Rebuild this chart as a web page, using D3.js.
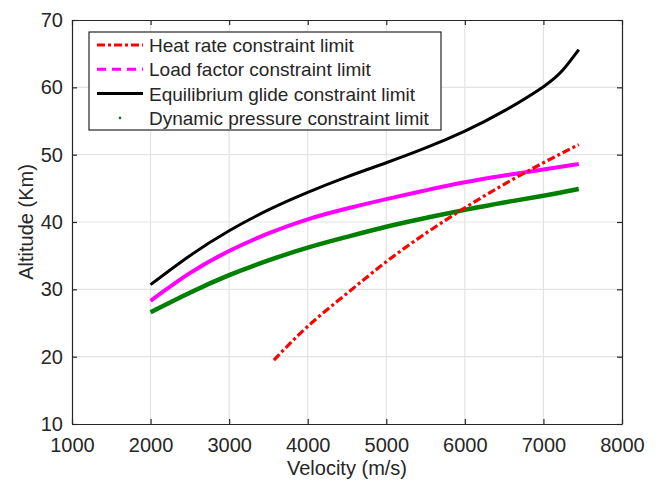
<!DOCTYPE html>
<html>
<head>
<meta charset="utf-8">
<script src="https://cdn.jsdelivr.net/npm/d3@7"></script>
<style>
  body { margin: 0; background: #fff; }
  svg text { font-family: "Liberation Sans", Arial, sans-serif; fill: #262626; }
</style>
</head>
<body>
<svg id="chart"></svg>
<script>
// velocity (m/s) and altitude (km)
var glideV = [2000, 2500, 3000, 3500, 4000, 4500, 5000, 5500, 6000, 6500, 7000, 7250, 7450]
var glideH = [30.7, 35.0, 38.7, 41.8, 44.4, 46.7, 48.8, 51.0, 53.5, 56.5, 60.1, 62.6, 65.6]

var loadV = [2000, 2500, 3000, 3500, 4000, 4500, 5000, 5500, 6000, 6500, 7000, 7450]
var loadH = [28.3, 32.4, 35.7, 38.3, 40.4, 42.0, 43.4, 44.7, 45.9, 46.9, 47.8, 48.6]

var dynV = [2000, 2500, 3000, 3500, 4000, 4500, 5000, 5500, 6000, 6500, 7000, 7450]
var dynH = [26.6, 29.5, 32.1, 34.3, 36.2, 37.8, 39.3, 40.6, 41.8, 42.9, 43.9, 44.9]

var heatV = [3570, 4000, 4500, 5000, 5500, 6000, 6500, 7000, 7450]
var heatH = [19.5, 24.5, 29.4, 34.1, 38.3, 42.1, 45.6, 48.8, 51.5]

var xTicks = [1000, 2000, 3000, 4000, 5000, 6000, 7000, 8000]
var yTicks = [10, 20, 30, 40, 50, 60, 70]

var legendLabels = [
    "Heat rate constraint limit",
    "Load factor constraint limit",
    "Equilibrium glide constraint limit",
    "Dynamic pressure constraint limit"
]

var width = 662, height = 481
var margin = {top: 20, right: 40, bottom: 57, left: 72}
var plotW = width - margin.left - margin.right,
    plotH = height - margin.top - margin.bottom

var svg = d3.select("#chart")
    .attr("width", width)
    .attr("height", height)

var g = svg.append("g")
    .attr("transform", "translate(" + margin.left + "," + margin.top + ")")

var x = d3.scaleLinear().domain([1000, 8000]).range([0, plotW])
var y = d3.scaleLinear().domain([10, 70]).range([plotH, 0])

// grid
g.append("g").selectAll("line").data(xTicks.slice(1, -1)).enter().append("line")
    .attr("x1", (d) => x(d)).attr("x2", (d) => x(d))
    .attr("y1", 0).attr("y2", plotH)
    .attr("stroke", "#e3e3e3").attr("stroke-width", 1.2)
g.append("g").selectAll("line").data(yTicks.slice(1, -1)).enter().append("line")
    .attr("y1", (d) => y(d)).attr("y2", (d) => y(d))
    .attr("x1", 0).attr("x2", plotW)
    .attr("stroke", "#e3e3e3").attr("stroke-width", 1.2)

// axes, ticks pointing inward
var fmt = d3.format("d")
var xAxis = g.append("g")
    .attr("transform", "translate(0," + plotH + ")")
    .call(d3.axisBottom(x).tickValues(xTicks).tickFormat(fmt).tickSizeInner(-5).tickSizeOuter(0).tickPadding(14))
var yAxis = g.append("g")
    .call(d3.axisLeft(y).tickValues(yTicks).tickFormat(fmt).tickSizeInner(-5).tickSizeOuter(0).tickPadding(9))
var xTop = g.append("g")
    .call(d3.axisTop(x).tickValues(xTicks).tickSizeInner(-5).tickSizeOuter(0).tickFormat(""))
var yRight = g.append("g")
    .attr("transform", "translate(" + plotW + ",0)")
    .call(d3.axisRight(y).tickValues(yTicks).tickSizeInner(-5).tickSizeOuter(0).tickFormat(""))

;[xAxis, yAxis, xTop, yRight].forEach(function(a) {
    a.select(".domain").attr("stroke", "#262626").attr("stroke-width", 1.2)
    a.selectAll(".tick line").attr("stroke", "#262626").attr("stroke-width", 1.2)
    a.selectAll("text").style("font-size", "20px").attr("fill", "#262626")
        .style("font-family", "'Liberation Sans', Arial, sans-serif")
})

// curves
var line = d3.line().curve(d3.curveNatural)

function pts(vs, hs) {
    return vs.map((v, i) => [x(v), y(hs[i])])
}

g.append("path")
    .attr("d", line(pts(dynV, dynH)))
    .attr("fill", "none").attr("stroke", "#008000").attr("stroke-width", 4.5)
g.append("path")
    .attr("d", line(pts(loadV, loadH)))
    .attr("fill", "none").attr("stroke", "#ff00ff").attr("stroke-width", 4)
g.append("path")
    .attr("d", line(pts(glideV, glideH)))
    .attr("fill", "none").attr("stroke", "#000").attr("stroke-width", 3)
g.append("path")
    .attr("d", line(pts(heatV, heatH)))
    .attr("fill", "none").attr("stroke", "#ff0000").attr("stroke-width", 3.2)
    .attr("stroke-dasharray", "8,3,3,3")

// axis labels
svg.append("text")
    .attr("x", margin.left + plotW / 2).attr("y", 475)
    .attr("text-anchor", "middle")
    .style("font-size", "20px")
    .text("Velocity (m/s)")
svg.append("text")
    .attr("transform", "translate(33," + (margin.top + plotH / 2) + ") rotate(-90)")
    .attr("text-anchor", "middle")
    .style("font-size", "20px")
    .text("Altitude (Km)")

// legend
var legend = svg.append("g").attr("transform", "translate(89,32)")
legend.append("rect")
    .attr("width", 352).attr("height", 98)
    .attr("fill", "#fff").attr("stroke", "#262626").attr("stroke-width", 1.2)

var legendStyles = [
    {color: "#ff0000", dash: "8,3,3,3", w: 3},
    {color: "#ff00ff", dash: "9,6", w: 3},
    {color: "#000", dash: null, w: 3},
    {color: "#008000", dash: "dot", w: 3}
]

legendLabels.forEach(function(label, i) {
    var ly = 13 + i * 24.3
    var s = legendStyles[i]
    if (s.dash === "dot") {
        legend.append("circle").attr("cx", 31).attr("cy", ly).attr("r", 1.3).attr("fill", s.color)
    } else {
        legend.append("line")
            .attr("x1", 8).attr("x2", 54).attr("y1", ly).attr("y2", ly)
            .attr("stroke", s.color).attr("stroke-width", s.w)
            .attr("stroke-dasharray", s.dash)
    }
    legend.append("text")
        .attr("x", 60).attr("y", ly + 7)
        .style("font-size", "19px")
        .text(label)
})
</script>
</body>
</html>
